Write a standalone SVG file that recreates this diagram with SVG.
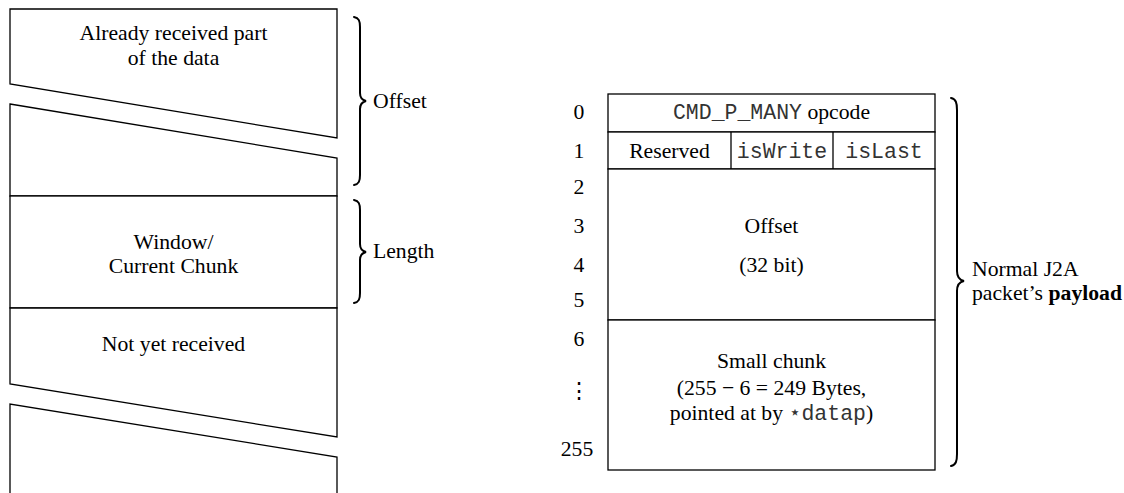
<svg xmlns="http://www.w3.org/2000/svg" width="1124" height="493" viewBox="0 0 1124 493">
<style>
.t{font-family:"Liberation Serif","Times New Roman",serif;font-size:21.7px;fill:#000}
.m{font-family:"Liberation Mono","Courier New",monospace;font-size:21.5px;fill:#333}
.c{text-anchor:middle}
.s{fill:#fff;stroke:#000;stroke-width:1.3}
.br{fill:none;stroke:#000;stroke-width:2;stroke-linecap:round}
</style>
<rect width="1124" height="493" fill="#fff"/>
<g id="already">
<path class="s" d="M10,9 H337 V138 L10,84 Z"/>
<text class="t c" x="173.5" y="40">Already received part</text>
<text class="t c" x="173.5" y="65">of the data</text>
</g>
<g id="already-end">
<path class="s" d="M10,104 L337,158 V196 H10 Z"/>
</g>
<g id="window">
<rect class="s" x="10" y="196" width="327" height="112"/>
<text class="t c" x="173.5" y="249">Window/</text>
<text class="t c" x="173.5" y="273">Current Chunk</text>
</g>
<g id="notyet">
<path class="s" d="M10,308 H337 V437 L10,384 Z"/>
<text class="t c" x="173.5" y="351">Not yet received</text>
</g>
<g id="notyet-end">
<path class="s" d="M10,495 V404 L337,457 V495"/>
</g>
<g id="offset-brace">
<path class="br" d="M354,17 C359,18 360,21 360,27 V93 C360,98 362,100 366,101 C362,102 360,104 360,109 V175 C360,181 359,184 354,185"/>
<text class="t" x="373" y="108">Offset</text>
</g>
<g id="length-brace">
<path class="br" d="M354,200 C359,201 360,204 360,210 V244 C360,249 362,251 366,252 C362,253 360,255 360,260 V293 C360,299 359,302 354,303"/>
<text class="t" x="373" y="258">Length</text>
</g>
<g id="row-numbers">
<text class="t c" x="579" y="119">0</text>
<text class="t c" x="579" y="158">1</text>
<text class="t c" x="579" y="194">2</text>
<text class="t c" x="579" y="233">3</text>
<text class="t c" x="579" y="272">4</text>
<text class="t c" x="579" y="307">5</text>
<text class="t c" x="579" y="346">6</text>
<text class="t c" x="579" y="398">⋮</text>
<text class="t c" x="577" y="456">255</text>
</g>
<g id="opcode">
<rect class="s" x="608" y="94" width="327" height="38"/>
<text class="t c" x="771.5" y="119"><tspan class="m">CMD_P_MANY</tspan> opcode</text>
</g>
<g id="flags">
<rect class="s" x="608" y="132" width="327" height="37"/>
<line x1="731" y1="132" x2="731" y2="169" stroke="#000" stroke-width="1.3"/>
<line x1="833" y1="132" x2="833" y2="169" stroke="#000" stroke-width="1.3"/>
<text class="t c" x="669.5" y="158">Reserved</text>
<text class="m c" x="782" y="158">isWrite</text>
<text class="m c" x="884" y="158">isLast</text>
</g>
<g id="offset-field">
<rect class="s" x="608" y="169" width="327" height="151"/>
<text class="t c" x="771.5" y="233">Offset</text>
<text class="t c" x="771.5" y="272">(32 bit)</text>
</g>
<g id="small-chunk">
<rect class="s" x="608" y="320" width="327" height="150"/>
<text class="t c" x="771.5" y="368">Small chunk</text>
<text class="t c" x="771.5" y="395">(255 − 6 = 249 Bytes,</text>
<text class="t c" x="771.5" y="420">pointed at by <tspan class="m">⋆datap</tspan>)</text>
</g>
<g id="payload-brace">
<path class="br" d="M951,98 C956,99 957,103 957,110 V271 C957,277 959,280 964,281 C959,282 957,285 957,291 V454 C957,461 956,465 951,466"/>
<text class="t" x="972" y="276">Normal J2A</text>
<text class="t" x="972" y="300">packet’s <tspan font-weight="bold">payload</tspan></text>
</g>
</svg>
